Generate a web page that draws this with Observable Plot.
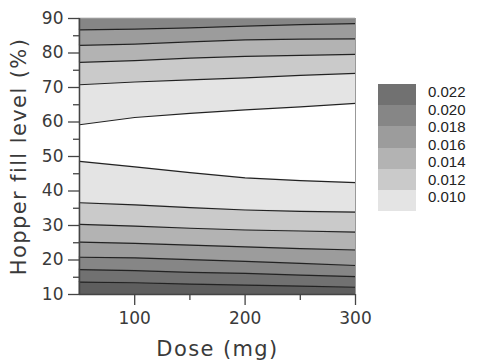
<!DOCTYPE html>
<html>
<head>
<meta charset="utf-8">
<script src="https://cdn.jsdelivr.net/npm/d3@7"></script>
<script src="https://cdn.jsdelivr.net/npm/@observablehq/plot@0.6"></script>
<style>
  html, body { margin: 0; padding: 0; background: #fff; }
  #wrap { position: relative; width: 478px; height: 363px; }
  #legend { position: absolute; left: 378px; top: 84px; }
  .sw { width: 38px; }
  #labels { position: absolute; left: 428px; top: 83px; font-family: "Liberation Sans", Arial, sans-serif; font-size: 15px; color: #222; }
  #labels div { height: 17.5px; line-height: 17.5px; }
</style>
</head>
<body>
<div id="wrap"></div>
<script>
const dose = [50, 100, 150, 200, 250, 300];
const levels = [0.010, 0.012, 0.014, 0.016, 0.018, 0.020, 0.022];

// contour lines below the minimum (white) region
const lower010 = [48.6, 47.0, 45.3, 43.8, 43.0, 42.4];
const lower012 = [36.6, 36.0, 35.2, 34.5, 34.1, 33.9];
const lower014 = [30.3, 29.8, 29.2, 28.7, 28.4, 28.1];
const lower016 = [25.2, 24.8, 24.3, 23.8, 23.3, 22.9];
const lower018 = [20.8, 20.6, 20.1, 19.6, 19.0, 18.4];
const lower020 = [17.2, 16.9, 16.4, 16.1, 15.6, 15.2];
const lower022 = [13.6, 13.4, 13.0, 12.7, 12.4, 12.1];
// contour lines above the minimum region
const upper010 = [59.2, 61.3, 62.5, 63.5, 64.4, 65.4];
const upper012 = [70.8, 71.6, 72.2, 72.8, 73.5, 74.1];
const upper014 = [77.3, 77.8, 78.5, 79.0, 79.3, 79.6];
const upper016 = [82.2, 82.6, 83.2, 83.8, 84.0, 84.1];
const upper018 = [86.7, 86.9, 87.3, 87.8, 88.2, 88.5];

// band colours: 0.010-0.012, 0.012-0.014, ..., 0.020-0.022, >0.022
const bandColors = ["#e4e4e4", "#cacaca", "#b3b3b3", "#9c9c9c", "#868686", "#717171", "#5e5e5e"];

const xTicks = [100, 200, 300];
const xMinor = [150, 250];
const yTicks = [10, 20, 30, 40, 50, 60, 70, 80, 90];
const yMinor = [15, 25, 35, 45, 55, 65, 75, 85];
const xLabel = "Dose (mg)";
const yLabel = "Hopper fill level (%)";

const lowerLines = [lower010, lower012, lower014, lower016, lower018, lower020, lower022];
const upperLines = [upper010, upper012, upper014, upper016, upper018];

const bands = [];
function addBand(id, lo, hi, fill) {
  dose.forEach((d, j) => bands.push({band: id, dose: d, y1: lo ? lo[j] : 10, y2: hi ? hi[j] : 90, fill}));
}
for (let i = 0; i < 6; i++) addBand("L" + i, lowerLines[i + 1], lowerLines[i], bandColors[i]);
addBand("L6", null, lower022, bandColors[6]);
for (let i = 0; i < 4; i++) addBand("U" + i, upperLines[i], upperLines[i + 1], bandColors[i]);
addBand("U4", upper018, null, bandColors[4]);

const lines = [];
lowerLines.concat(upperLines).forEach((arr, k) => dose.forEach((d, j) => lines.push({id: k, dose: d, v: arr[j]})));

const chart = Plot.plot({
  width: 478, height: 363,
  marginLeft: 79, marginRight: 123, marginTop: 18, marginBottom: 69,
  style: {fontFamily: "DejaVu Sans", fontSize: "17px", color: "#3a3a3a", background: "#fff"},
  x: {domain: [50, 300], label: null},
  y: {domain: [10, 90], label: null},
  color: {type: "identity"},
  marks: [
    Plot.areaY(bands, {x: "dose", y1: "y1", y2: "y2", z: "band", fill: "fill", stroke: "fill", strokeWidth: 0.5}),
    Plot.line(lines, {x: "dose", y: "v", z: "id", stroke: "#222", strokeWidth: 1.2}),
    Plot.frame({stroke: "#999", strokeWidth: 1}),
    Plot.ruleX([50], {stroke: "#444", strokeWidth: 1.5}),
    Plot.ruleY([10], {stroke: "#444", strokeWidth: 1.5}),
    Plot.axisX(xTicks, {tickSize: 11, tickPadding: 6, label: null, stroke: "#444", strokeWidth: 1.3}),
    Plot.axisX(xMinor, {tickSize: 6, tickFormat: () => "", label: null, stroke: "#444", strokeWidth: 1.3}),
    Plot.axisY(yTicks, {tickSize: 11, tickPadding: 5, label: null, stroke: "#444", strokeWidth: 1.3}),
    Plot.axisY(yMinor, {tickSize: 6, tickFormat: () => "", label: null, stroke: "#444", strokeWidth: 1.3}),
    Plot.text([xLabel], {frameAnchor: "bottom", text: d => d, dy: 55, textAnchor: "middle", lineAnchor: "middle", fontSize: 21, fill: "#3a3a3a"}),
    Plot.text([yLabel], {frameAnchor: "left", text: d => d, dx: -60, rotate: -90, textAnchor: "middle", lineAnchor: "middle", fontSize: 21, fill: "#3a3a3a"})
  ]
});
const wrap = document.getElementById("wrap");
wrap.appendChild(chart);
chart.querySelectorAll("text").forEach(t => { if (t.textContent === xLabel || t.textContent === yLabel) t.style.letterSpacing = "1.4px"; });

// legend: swatches from top (0.020-0.022) to bottom (0.010-0.012)
const legend = document.createElement("div");
legend.id = "legend";
for (let i = 5; i >= 0; i--) {
  const s = document.createElement("div");
  s.className = "sw";
  s.style.height = "21.2px";
  s.style.background = bandColors[i];
  legend.appendChild(s);
}
wrap.appendChild(legend);
const labs = document.createElement("div");
labs.id = "labels";
levels.slice().reverse().forEach(v => {
  const d = document.createElement("div");
  d.textContent = v.toFixed(3);
  labs.appendChild(d);
});
wrap.appendChild(labs);
</script>
</body>
</html>
